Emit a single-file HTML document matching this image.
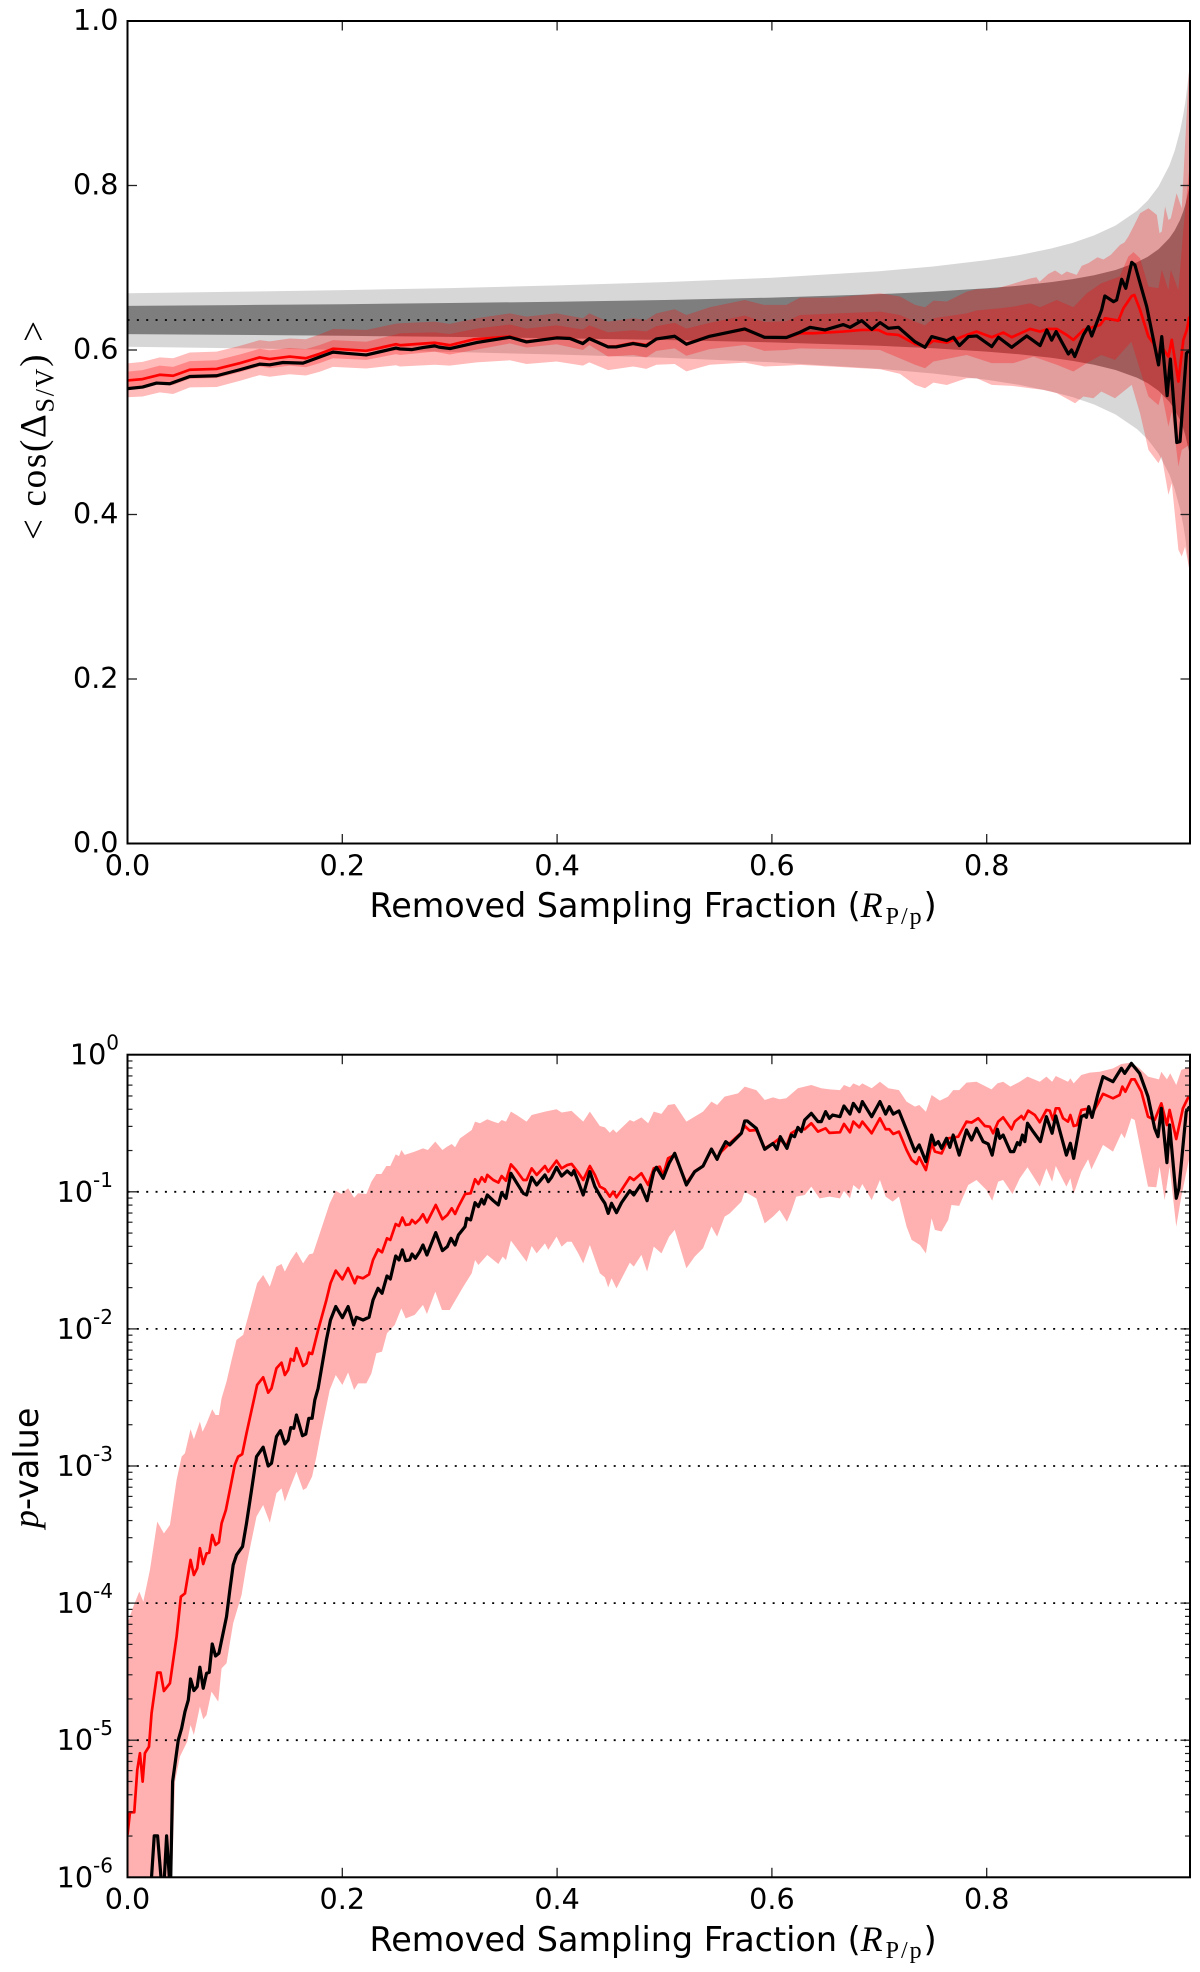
<!DOCTYPE html>
<html>
<head>
<meta charset="utf-8">
<title>Cosine and p-value versus removed sampling fraction</title>
<style>
html,body{margin:0;padding:0;background:#fff;width:1200px;height:1972px;overflow:hidden}
svg{display:block}
text{fill:#000;font-family:"DejaVu Sans","Liberation Sans",sans-serif}
.math{font-family:"Liberation Serif","DejaVu Serif",serif}
</style>
</head>
<body>
<svg id="fig" xmlns="http://www.w3.org/2000/svg" width="1200" height="1972" viewBox="0 0 1200 1972">
  <defs>
    <clipPath id="clipTop"><rect x="127.5" y="21" width="1062.5" height="822.5"/></clipPath>
    <clipPath id="clipBot"><rect x="127.5" y="1054.7" width="1062.5" height="822.6"/></clipPath>
  </defs>
  <g id="topMarks" clip-path="url(#clipTop)"></g>
  <g id="topAxes"></g>
  <g id="botMarks" clip-path="url(#clipBot)"></g>
  <g id="botAxes"></g>

  <text x="369.5" y="917" font-size="33.4">Removed Sampling Fraction (<tspan class="math" font-style="italic" font-size="36" letter-spacing="3">R</tspan><tspan class="math" font-size="24" letter-spacing="2" dy="7">P/p</tspan><tspan dy="-7">)</tspan></text>
  <text x="369.5" y="1951" font-size="33.4">Removed Sampling Fraction (<tspan class="math" font-style="italic" font-size="36" letter-spacing="3">R</tspan><tspan class="math" font-size="24" letter-spacing="2" dy="7">P/p</tspan><tspan dy="-7">)</tspan></text>
  <text class="math" transform="translate(45.5,540) rotate(-90)" font-size="37" textLength="219">&lt; cos(Δ<tspan font-size="26" dy="8">S/V</tspan><tspan dy="-8">) &gt;</tspan></text>
  <text transform="translate(38,1528) rotate(-90)" font-size="33.4"><tspan class="math" font-style="italic" font-size="36">p</tspan>-value</text>
</svg>
<script>
/* ---------- shared axis ticks ---------- */
const xTickValues = [0, 0.2, 0.4, 0.6, 0.8];
const xTickLabels = ["0.0", "0.2", "0.4", "0.6", "0.8"];
const topYTickValues = [0, 0.2, 0.4, 0.6, 0.8, 1.0];
const topYTickLabels = ["0.0", "0.2", "0.4", "0.6", "0.8", "1.0"];
const botDecades = [0, -1, -2, -3, -4, -5, -6];
const botExponentLabels = ["0", "-1", "-2", "-3", "-4", "-5", "-6"];
const botDottedDecades = [-1, -2, -3, -4, -5];
const topReferenceLevel = [0.6365];

/* ---------- top panel: random-expectation gray bands ---------- */
const grayX = [0,.1,.2,.3,.4,.5,.6,.7,.75,.8,
               .83,.86,.88,.9,.92,.94,.95,.96,.97,.975,
               .98,.983,.985,.9885];
const grayOuterHi = [.669,.6708,.6728,.6753,.6785,.6825,.6879,.6958,.7015,.7092,
               .7153,.7234,.7303,.7393,.7514,.7692,.7818,.799,.8241,.8421,
               .8663,.8858,.9019,.9396];
const grayOuterLo = [.604,.6022,.6002,.5977,.5945,.5905,.5851,.5772,.5715,.5638,
               .5577,.5496,.5427,.5337,.5216,.5038,.4912,.474,.4489,.4309,
               .4067,.3872,.3711,.3334];
const grayInnerHi = [.6537,.6546,.6557,.6571,.6587,.6608,.6637,.6679,.6709,.675,
               .6782,.6825,.6862,.6909,.6973,.7067,.7134,.7225,.7358,.7453,
               .7581,.7684,.7769,.7969];
const grayInnerLo = [.6193,.6184,.6173,.6159,.6143,.6122,.6093,.6051,.6021,.598,
               .5948,.5905,.5868,.5821,.5757,.5663,.5596,.5505,.5372,.5277,
               .5149,.5046,.4961,.4761];

/* ---------- top panel: red bands ---------- */
const leftBandX = [0,.014,.03,.0425,.058,.083,.1045,.123,.1324,.151,
               .166,.179,.1913,.2223,.25,.2537,.286,.3,.325,.356,
               .3715,.3995,.424,.43,.4475,.4708,.483,.4925,.5095,.5204,
               .542,.5747,.593,.6135];
const outerHiLeft = [.5838,.5855,.591,.59,.597,.598,.605,.612,.6105,.614,
               .613,.619,.6255,.6245,.632,.6325,.6345,.6317,.6386,.6446,
               .6406,.6446,.6386,.6446,.6345,.6386,.6366,.6446,.6495,.6426,
               .652,.6608,.6548,.6548];
const innerHiLeft = [.5737,.5755,.581,.5795,.5865,.5875,.5945,.6015,.5995,.6025,
               .601,.606,.612,.61,.619,.6203,.6215,.6195,.626,.631,
               .626,.63,.625,.63,.6215,.624,.6225,.629,.633,.626,
               .633,.6418,.634,.635];
const innerLoLeft = [.5525,.5535,.559,.5575,.565,.566,.573,.58,.578,.581,
               .579,.584,.59,.588,.595,.594,.598,.5945,.6005,.608,
               .603,.607,.6,.606,.592,.594,.591,.599,.602,.593,
               .601,.606,.599,.6];
const outerLoLeft = [.5425,.5435,.5485,.5465,.5545,.555,.5625,.5695,.5675,.5705,
               .569,.5735,.5795,.5775,.5815,.58,.582,.581,.585,.5875,
               .583,.586,.581,.585,.5755,.58,.577,.582,.583,.574,
               .582,.5847,.58,.581];

const outerHiRightX = [.6262,.6572,.7007,.7193,.7333,.7426,.7504,.7628,.7814,.7907,
               .8093,.8233,.8404,.8462,.8493,.8575,.8637,.8699,.8745,.8838,
               .8885,.8947,.9032,.9087,.9155,.9242,.9282,.9319,.9367,.9428,
               .9506,.9584,.9609,.9630,.9661,.9692,.9714,.9768,.9816,.9887];
const outerHiRight = [.6637,.6637,.669,.6650,.6548,.652,.66,.659,.671,.6738,
               .675,.68,.687,.6885,.683,.6926,.6966,.6914,.6954,.6914,
               .7023,.7056,.7128,.71,.7157,.7278,.7307,.738,.7501,.7663,
               .7724,.7643,.742,.744,.7744,.758,.76,.7906,.7724,.9485];
const innerHiRightX = [.6262,.7007,.7193,.7333,.7426,.7504,.7814,.7907,.8124,.8249,
               .8404,.8497,.8652,.8807,.8932,.9067,.9238,.9319,.9367,.9428,
               .9506,.9599,.9630,.9692,.9714,.9785,.9831,.9887];
const innerHiRight = [.6426,.6467,.6426,.6345,.63,.6386,.6446,.648,.6507,.6528,
               .6568,.652,.6608,.652,.669,.681,.6893,.7136,.719,.7116,
               .677,.675,.6975,.673,.6975,.673,.746,.823];
const innerLoRightX = [.6262,.7007,.7333,.7426,.7504,.7814,.8047,.8249,.8435,.8652,
               .8807,.8932,.9067,.9195,.9347,.9428,.9506,.9599,.963,.9692,
               .9723,.9785,.9816,.9887];
const innerLoRight = [.602,.6,.582,.5778,.586,.594,.584,.584,.592,.582,
               .5738,.584,.594,.588,.6102,.5758,.5434,.533,.5475,.507,
               .525,.4583,.4786,.4847];
const outerLoRightX = [.6262,.6572,.7007,.7193,.7333,.7426,.7504,.7628,.7814,.7907,
               .8047,.8233,.8404,.8528,.8652,.8823,.89,.8994,.9067,.9195,
               .9350,.9428,.9506,.9599,.963,.9692,.9723,.9785,.9816,.9847,.9887];
const outerLoRight = [.5819,.5798,.5766,.571,.5576,.5535,.5604,.5575,.5657,.5657,
               .5576,.5564,.5535,.5515,.5475,.5353,.5434,.5414,.5495,.5414,
               .5576,.523,.4786,.4624,.4705,.4239,.4381,.357,.349,.361,.3328];

/* ---------- top panel: mean lines ---------- */
const topBlackX = [0,.014,.027,.0394,.058,.083,.1045,.123,.1324,.1448,
               .1634,.1758,.1913,.2037,.2223,.25,.2537,.265,.275,.286,
               .29,.3003,.325,.356,.3715,.3995,.412,.424,.43,.4475,
               .455,.4708,.483,.4925,.5095,.5204,.542,.5747,.593,.6135,
               .6262,.6355,.6495,.6665,.6728,.6836,.693,.7007,.7085,.7178,
               .7333,.7426,.7488,.7628,.769,.7746,.783,.7907,.8047,.8109,
               .8233,.8373,.8497,.856,.8605,.8646,.876,.879,.882,.89,
               .8947,.8978,.907,.91,.918,.921,.9257,.9295,.935,.938,
               .949,.96,.963,.968,.971,.977,.98,.986,.9887];
const topBlackY = [.553,.5549,.5598,.559,.5678,.5687,.576,.5828,.582,.5848,
               .584,.59,.5974,.596,.594,.6023,.6013,.6005,.603,.605,
               .6035,.6017,.609,.6155,.6098,.6147,.614,.6078,.6138,.6037,
               .6037,.6078,.605,.6135,.6167,.607,.6167,.6256,.6155,.6152,
               .6216,.6276,.6244,.6309,.6276,.6357,.625,.6333,.6264,.6276,
               .61,.6033,.6163,.6114,.6155,.6054,.6163,.6171,.6041,.6155,
               .6033,.6171,.6054,.6244,.612,.6224,.5952,.6,.592,.6183,
               .6284,.6171,.6487,.6657,.6588,.6608,.686,.675,.7066,.7034,
               .6527,.5819,.6163,.5446,.589,.4875,.4887,.596,.60];
const topRedX = [0,.014,.03,.0425,.058,.083,.1045,.123,.1324,.151,
               .166,.179,.1913,.2223,.25,.2537,.286,.3003,.3225,.356,
               .3715,.3995,.412,.424,.43,.4475,.455,.4708,.483,.4925,
               .5095,.5204,.542,.5747,.593,.6135,.6262,.6386,.6665,.6836,
               .6991,.7069,.7178,.7333,.7426,.7504,.7628,.7814,.7907,.8047,
               .8155,.8233,.8404,.8497,.8575,.8652,.8745,.8807,.89,.9056,
               .9102,.9226,.9273,.935,.9375,.9428,.9506,.9552,.9599,.963,
               .9692,.9723,.9785,.9831,.9863,.9887];
const topRedY = [.563,.5646,.5699,.5687,.576,.577,.584,.591,.589,.592,
               .59,.5954,.6015,.599,.607,.6058,.6088,.6058,.613,.6163,
               .6103,.6152,.6145,.6083,.6143,.6042,.6045,.6085,.606,.6135,
               .6167,.6075,.617,.625,.6155,.6148,.6204,.6204,.6224,.6244,
               .6244,.6195,.6183,.6074,.6041,.6114,.609,.6183,.6224,.6155,
               .6212,.6155,.6256,.6224,.6256,.6256,.6183,.6123,.6244,.6305,
               .6386,.6357,.6507,.6657,.6669,.6487,.6163,.6082,.59,.6041,
               .592,.6123,.5616,.6123,.6244,.6406];

/* ---------- bottom panel: log10(p-value) band ---------- */
const bandHiX = [0,.0054,.011,.0147,.0209,.0277,.0339,.0395,.0457,.0504,
               .0535,.0587,.0618,.0674,.0699,.0736,.0789,.082,.0851,.0876,
               .0922,.0969,.1015,.1077,.1207,.1263,.1325,.1387,.1434,.1465,
               .152,.1573,.1635,.1691,.1728,.1806,.1883,.1939,.1992,.2054,
               .211,.2147,.2224,.2271,.2317,.2364,.241,.2447,.2497,.2528,
               .255,.2581,.2674,.2751,.2797,.2866,.2932,.2978,.3019,.305,
               .3096,.3205,.3236,.3282,.335,.3406,.3453,.3484,.3524,.357,
               .3623,.3716,.3763,.3887,.3995,.4042,.4135,.4243,.4305,.4398,
               .4445,.4491,.4522,.4553,.4677,.4714,.4785,.4848,.49,.4972,
               .5033,.5095,.5204,.5281,.5359,.5437,.549,.556,.5685,.5747,
               .5855,.5933,.601,.6072,.6134,.6242,.6367,.646,.6537,.6634,
               .6671,.6727,.6758,.6814,.6842,.6929,.7006,.7084,.7183,.7254,
               .7332,.7372,.7434,.7487,.7564,.764,.7688,.7744,.7812,.7905,
               .8045,.81,.8153,.8221,.8308,.838,.8494,.8556,.8609,.8643,
               .8757,.8779,.881,.8881,.8959,.9052,.9176,.9254,.9347,.9424,
               .9502,.9604,.9626,.9678,.9709,.9765,.9812,.9889];
const bandHiY = [-4.147,-4.026,-3.916,-3.989,-3.758,-3.406,-3.491,-3.43,-3.102,-2.932,
               -2.907,-2.732,-2.805,-2.676,-2.75,-2.689,-2.586,-2.628,-2.628,-2.506,
               -2.385,-2.227,-2.08,-2.044,-1.667,-1.607,-1.692,-1.546,-1.527,-1.582,
               -1.497,-1.436,-1.522,-1.456,-1.449,-1.266,-1.084,-.992,-1.016,-.974,
               -1.043,-1.011,-1.016,-.926,-.87,-.87,-.812,-.812,-.727,-.74,
               -.695,-.731,-.707,-.683,-.695,-.634,-.695,-.67,-.651,-.675,
               -.61,-.549,-.488,-.5,-.471,-.488,-.5,-.476,-.488,-.415,
               -.44,-.488,-.44,-.415,-.398,-.422,-.41,-.488,-.415,-.52,
               -.53,-.569,-.545,-.569,-.476,-.488,-.457,-.5,-.415,-.432,
               -.367,-.36,-.488,-.452,-.415,-.342,-.367,-.306,-.282,-.233,
               -.258,-.33,-.311,-.325,-.318,-.245,-.221,-.245,-.253,-.258,
               -.221,-.238,-.209,-.228,-.209,-.245,-.197,-.245,-.258,-.342,
               -.379,-.367,-.416,-.294,-.335,-.306,-.258,-.258,-.204,-.197,
               -.253,-.209,-.197,-.233,-.197,-.16,-.197,-.16,-.197,-.155,
               -.197,-.172,-.209,-.148,-.131,-.124,-.1,-.068,-.058,-.1,
               -.16,-.18,-.124,-.18,-.136,-.221,-.112,-.087];
const bandLoX = [0,.039,.0415,.0442,.0488,.0556,.0587,.0618,.0674,.0705,
               .0736,.0782,.0845,.0876,.0922,.0984,.1062,.1108,.1201,.1263,
               .1325,.1387,.1434,.1465,.1511,.1573,.1635,.1666,.1719,.1759,
               .1806,.1883,.1939,.2001,.2054,.211,.2147,.2224,.2271,.2317,
               .237,.2416,.2488,.255,.259,.2674,.2751,.2788,.2866,.2928,
               .3,.3127,.3205,.3236,.3267,.335,.3453,.3493,.3524,.357,
               .3623,.3716,.3763,.381,.3887,.3918,.3995,.4042,.4094,.4135,
               .4197,.4243,.4305,.4398,.4445,.4476,.4507,.4553,.4677,.4714,
               .4785,.4838,.49,.4972,.5043,.5095,.5204,.5281,.5359,.5437,
               .549,.556,.5608,.5716,.5747,.5855,.5933,.601,.6072,.614,
               .618,.6227,.6305,.6367,.6444,.6537,.6634,.6671,.6727,.6758,
               .6814,.6842,.6929,.7006,.7059,.7124,.7183,.7254,.7301,.7378,
               .7434,.7487,.7518,.758,.7642,.7672,.7744,.7828,.7905,.7998,
               .8051,.8107,.8153,.824,.8308,.838,.8494,.8556,.8609,.8643,
               .8742,.8779,.881,.8881,.8944,.8975,.9083,.9176,.9254,.9285,
               .9347,.9378,.944,.9502,.9579,.961,.9657,.9703,.9765,.9812,.9889];
const bandLoY = [-7,-7,-6,-5.302,-5.12,-5.01,-4.889,-4.962,-4.755,-4.847,
               -4.816,-4.646,-4.719,-4.476,-4.439,-4.147,-3.941,-3.722,-3.369,-3.284,
               -3.413,-3.199,-3.163,-3.26,-3.163,-3.041,-3.175,-3.16,-3.077,-2.932,
               -2.737,-2.445,-2.336,-2.409,-2.317,-2.445,-2.397,-2.397,-2.324,-2.178,
               -2.166,-2.032,-1.971,-1.85,-1.923,-1.898,-1.825,-1.891,-1.728,-1.862,
               -1.862,-1.692,-1.594,-1.497,-1.534,-1.461,-1.527,-1.473,-1.497,-1.356,
               -1.412,-1.51,-1.395,-1.449,-1.376,-1.424,-1.327,-1.4,-1.364,-1.364,
               -1.449,-1.522,-1.388,-1.594,-1.624,-1.697,-1.631,-1.704,-1.517,-1.546,
               -1.46,-1.582,-1.4,-1.449,-1.327,-1.278,-1.558,-1.473,-1.412,-1.254,
               -1.327,-1.181,-1.157,-1.072,-.999,-1.048,-1.23,-1.181,-1.133,-1.218,
               -1.145,-1.035,-1.023,-.962,-1.048,-1.035,-1.048,-.992,-1.048,-.95,
               -.987,-.943,-1.06,-.914,-1.035,-1.072,-1.035,-1.254,-1.351,-1.388,
               -1.449,-1.193,-1.278,-1.29,-1.205,-1.096,-1.103,-.95,-.914,-.987,
               -1.065,-.926,-.914,-1.016,-.902,-.821,-.962,-.829,-.926,-.812,
               -.962,-.901,-1.016,-.853,-.763,-.836,-.658,-.707,-.573,-.61,
               -.464,-.476,-.719,-.962,-.967,-.817,-1.06,-.817,-1.254,-1.035,-.743];

/* ---------- bottom panel: log10(p-value) lines ---------- */
const botRedX = [0,.0023,.0063,.0091,.0116,.0141,.0162,.02,.0224,.0277,
               .0308,.0339,.0395,.0457,.0497,.0535,.0587,.0618,.0649,.0674,
               .0705,.0736,.0761,.0789,.082,.0851,.0876,.0916,.0959,.0999,
               .103,.1068,.1108,.1207,.1263,.131,.1341,.1387,.1434,.1465,
               .1496,.152,.1548,.1573,.1635,.1666,.1691,.1719,.1775,.1852,
               .189,.1939,.2001,.2054,.2116,.214,.2193,.2249,.2286,.2333,
               .237,.2416,.2447,.2497,.2528,.2559,.259,.2627,.2649,.268,
               .272,.2751,.2788,.287,.2932,.2978,.3019,.305,.3081,.3143,
               .3195,.3236,.3267,.3298,.3329,.335,.3406,.3453,.3484,.3524,
               .357,.3617,.3685,.3716,.3763,.381,.3887,.3918,.3995,.4042,
               .4094,.4135,.4197,.4243,.4305,.4352,.4398,.4445,.4491,.4522,
               .4553,.46,.4677,.4714,.4785,.4848,.49,.4956,.4987,.5033,
               .5095,.5204,.5281,.5359,.5437,.549,.5529,.5608,.5716,.5747,
               .5793,.5855,.5933,.601,.6072,.6134,.618,.6242,.6305,.6367,
               .6429,.65,.6535,.6634,.6671,.6727,.6758,.6814,.6842,.6929,
               .7006,.7059,.7093,.713,.7183,.7254,.7301,.7347,.7372,.7434,
               .7487,.7518,.758,.7642,.7735,.7812,.7859,.7921,.7983,.8029,
               .806,.8107,.8153,.8231,.8261,.8323,.8345,.8386,.8448,.8494,
               .8556,.8587,.8618,.8643,.8674,.8711,.8757,.8779,.881,.8841,
               .8881,.8928,.8975,.9037,.9083,.9176,.9238,.9263,.9291,.9347,
               .9378,.944,.9502,.9564,.9626,.9678,.9703,.9765,.9827,.988];
const botRedY = [-5.69,-5.526,-5.526,-5.217,-5.095,-5.302,-5.095,-5.047,-4.804,-4.507,
               -4.507,-4.641,-4.585,-4.245,-3.953,-3.929,-3.685,-3.795,-3.746,-3.6,
               -3.715,-3.637,-3.632,-3.503,-3.576,-3.557,-3.418,-3.321,-3.151,-2.992,
               -2.932,-2.914,-2.761,-2.409,-2.353,-2.465,-2.433,-2.287,-2.246,-2.336,
               -2.299,-2.219,-2.232,-2.141,-2.27,-2.251,-2.173,-2.183,-2.008,-1.789,
               -1.667,-1.575,-1.638,-1.556,-1.667,-1.619,-1.631,-1.602,-1.497,-1.42,
               -1.441,-1.339,-1.351,-1.235,-1.249,-1.188,-1.242,-1.237,-1.205,-1.23,
               -1.2,-1.164,-1.223,-1.096,-1.2,-1.169,-1.12,-1.162,-1.108,-1.016,
               -1.011,-.909,-.943,-.894,-.926,-.877,-.914,-.933,-.885,-.919,
               -.8,-.841,-.914,-.914,-.829,-.877,-.812,-.853,-.773,-.829,
               -.805,-.797,-.86,-.914,-.812,-.877,-.962,-.982,-1.035,-.999,
               -1.04,-.987,-.894,-.914,-.865,-.95,-.829,-.817,-.88,-.756,
               -.731,-.938,-.85,-.812,-.695,-.756,-.707,-.646,-.568,-.52,
               -.554,-.549,-.683,-.647,-.61,-.67,-.573,-.544,-.544,-.5,
               -.561,-.537,-.57,-.566,-.505,-.566,-.488,-.53,-.488,-.573,
               -.464,-.544,-.544,-.578,-.561,-.695,-.768,-.797,-.748,-.841,
               -.646,-.707,-.72,-.61,-.598,-.488,-.495,-.464,-.52,-.525,
               -.573,-.488,-.457,-.544,-.488,-.447,-.471,-.408,-.44,-.493,
               -.403,-.408,-.476,-.391,-.391,-.464,-.488,-.44,-.52,-.513,
               -.403,-.396,-.44,-.355,-.286,-.318,-.294,-.233,-.27,-.18,
               -.18,-.27,-.452,-.476,-.355,-.513,-.403,-.615,-.391,-.306];
const botBlackX = [.018,.0224,.0249,.028,.0317,.034,.0364,.0389,.04,.042,
               .0473,.0504,.0535,.0566,.0587,.0618,.0649,.0674,.0705,.0736,
               .0761,.0789,.082,.0851,.0922,.0953,.0984,.1015,.1071,.1108,
               .1155,.1201,.1263,.131,.1341,.1387,.1424,.1465,.1496,.152,
               .1548,.1573,.1629,.166,.1688,.1719,.1744,.1775,.1852,.189,
               .1939,.2001,.2054,.2106,.2131,.2193,.2249,.2286,.2333,.237,
               .2416,.2447,.2497,.2528,.2559,.259,.2627,.2649,.268,.272,
               .2751,.2788,.287,.2932,.2978,.3012,.305,.3081,.3143,.3158,
               .3195,.3236,.3267,.3298,.332,.335,.3406,.3453,.3484,.3524,
               .357,.3617,.3685,.3716,.3763,.381,.3887,.3918,.3949,.3995,
               .4042,.4094,.4135,.4156,.4197,.4243,.4305,.4352,.4414,.4445,
               .4476,.4507,.4553,.46,.4677,.4714,.4776,.4838,.49,.4925,
               .4987,.5043,.5095,.5204,.5281,.5359,.5437,.549,.552,.557,
               .5608,.5716,.5747,.577,.5855,.5933,.601,.6047,.6078,.614,
               .618,.6211,.6242,.6274,.6305,.6367,.6429,.646,.65,.6535,
               .6566,.6634,.6671,.6727,.6758,.6814,.6842,.6929,.7006,.7059,
               .7093,.713,.7183,.7254,.7332,.7372,.7434,.7487,.7518,.7549,
               .758,.7626,.7657,.7688,.7744,.7812,.7859,.7905,.7967,.8014,
               .8051,.81,.8122,.8153,.8221,.8252,.8286,.8308,.8333,.8355,
               .838,.8432,.85,.8556,.8609,.8643,.8742,.8779,.881,.8881,
               .8912,.8928,.895,.8981,.9037,.9083,.9176,.9254,.9285,.9347,
               .9424,.9502,.9564,.9595,.9626,.9678,.9703,.9765,.979,.9858,.9889];
const botBlackY = [-6.5,-5.995,-5.698,-5.698,-6.05,-6.05,-5.698,-5.995,-6.1,-5.302,
               -4.998,-4.913,-4.792,-4.707,-4.553,-4.638,-4.609,-4.468,-4.621,-4.512,
               -4.505,-4.298,-4.386,-4.366,-4.099,-3.904,-3.722,-3.649,-3.588,-3.418,
               -3.175,-2.932,-2.863,-3,-2.98,-2.786,-2.742,-2.839,-2.81,-2.72,
               -2.725,-2.628,-2.779,-2.767,-2.652,-2.652,-2.518,-2.433,-2.08,-1.935,
               -1.837,-1.918,-1.837,-1.971,-1.915,-1.935,-1.915,-1.789,-1.704,-1.74,
               -1.614,-1.636,-1.468,-1.497,-1.424,-1.502,-1.497,-1.454,-1.485,-1.437,
               -1.388,-1.461,-1.298,-1.429,-1.4,-1.339,-1.388,-1.315,-1.254,-1.193,
               -1.205,-1.079,-1.108,-1.055,-1.089,-1.023,-1.065,-1.096,-1.006,-1.048,
               -.865,-.926,-1.011,-1.023,-.894,-.95,-.877,-.926,-.894,-.821,
               -.885,-.848,-.877,-.846,-.926,-1.023,-.853,-.962,-1.048,-1.084,
               -1.157,-1.084,-1.152,-1.079,-.992,-1.023,-.95,-1.065,-.853,-.821,
               -.902,-.792,-.719,-.95,-.853,-.812,-.688,-.763,-.707,-.634,
               -.658,-.573,-.483,-.483,-.537,-.69,-.647,-.69,-.598,-.683,
               -.586,-.598,-.53,-.561,-.476,-.428,-.488,-.488,-.415,-.464,
               -.44,-.452,-.374,-.433,-.355,-.416,-.342,-.452,-.342,-.433,
               -.379,-.433,-.41,-.549,-.707,-.658,-.78,-.586,-.658,-.634,
               -.683,-.61,-.676,-.586,-.732,-.549,-.622,-.537,-.634,-.651,
               -.732,-.544,-.61,-.586,-.707,-.707,-.641,-.658,-.586,-.634,
               -.5,-.561,-.634,-.452,-.573,-.447,-.732,-.646,-.756,-.452,
               -.44,-.457,-.379,-.457,-.282,-.16,-.197,-.099,-.136,-.063,
               -.136,-.306,-.537,-.598,-.391,-.787,-.513,-1.047,-.974,-.415,-.379];

/* ---------- axis functions ---------- */
const svgNS = "http://www.w3.org/2000/svg";
function xAxis(v){ return 127.5 + v * 1074; }
function yTop(v){ return 843.5 - v * 822.5; }
function yBot(logP){ return 1877.3 - (logP + 6) * 137.1; }

function make(tag, attrs, parent){
  const e = document.createElementNS(svgNS, tag);
  for (const k in attrs) e.setAttribute(k, attrs[k]);
  parent.appendChild(e);
  return e;
}
function lineD(xs, ys, yf){
  const n = Math.min(xs.length, ys.length);
  let d = "";
  for (let i = 0; i < n; i++) d += (i ? "L" : "M") + xAxis(xs[i]).toFixed(2) + " " + yf(ys[i]).toFixed(2);
  return d;
}
function bandD(xHi, hi, xLo, lo, yf){
  const n = Math.min(xLo.length, lo.length);
  let d = lineD(xHi, hi, yf);
  for (let i = n - 1; i >= 0; i--) d += "L" + xAxis(xLo[i]).toFixed(2) + " " + yf(lo[i]).toFixed(2);
  return d + "Z";
}
function tick(parent, x1, y1, x2, y2, w){
  return make("line", {x1:x1, y1:y1, x2:x2, y2:y2, stroke:"#222", "stroke-width":w}, parent);
}
function label(parent, x, y, anchor, size, str){
  const t = make("text", {x:x, y:y, "text-anchor":anchor, "font-size":size}, parent);
  t.textContent = str;
  return t;
}

/* ---------- top panel marks ---------- */
const topMarks = document.getElementById("topMarks");
const topAxes = document.getElementById("topAxes");
const botMarks = document.getElementById("botMarks");
const botAxes = document.getElementById("botAxes");

const gOuter = make("path", {d: bandD(grayX, grayOuterHi, grayX, grayOuterLo, yTop), fill:"#000", "fill-opacity":0.157}, topMarks);



const gInner = make("path", {d: bandD(grayX, grayInnerHi, grayX, grayInnerLo, yTop), fill:"#000", "fill-opacity":0.41}, topMarks);



const rOuter = make("path", {d: bandD(leftBandX.concat(outerHiRightX), outerHiLeft.concat(outerHiRight), leftBandX.concat(outerLoRightX), outerLoLeft.concat(outerLoRight), yTop), fill:"#f00", "fill-opacity":0.27}, topMarks);



const rInner = make("path", {d: bandD(leftBandX.concat(innerHiRightX), innerHiLeft.concat(innerHiRight), leftBandX.concat(innerLoRightX), innerLoLeft.concat(innerLoRight), yTop), fill:"#f00", "fill-opacity":0.27}, topMarks);



const refLine = make("line", {x1:xAxis(0), x2:1190, y1:yTop(topReferenceLevel[0]), y2:yTop(topReferenceLevel[0]), stroke:"#000", "stroke-width":1.8, "stroke-dasharray":"2 7.35"}, topMarks);



const tRed = make("path", {d: lineD(topRedX, topRedY, yTop), fill:"none", stroke:"#f00", "stroke-width":2.7, "stroke-linejoin":"round"}, topMarks);



const tBlack = make("path", {d: lineD(topBlackX, topBlackY, yTop), fill:"none", stroke:"#000", "stroke-width":3.2, "stroke-linejoin":"round"}, topMarks);



/* ---------- bottom panel marks ---------- */
const pBand = make("path", {d: bandD(bandHiX, bandHiY, bandLoX, bandLoY, yBot), fill:"#f00", "fill-opacity":0.31}, botMarks);



botDottedDecades.forEach(function(dec){
  const dl = make("line", {x1:xAxis(0), x2:1190, y1:yBot(dec), y2:yBot(dec), stroke:"#000", "stroke-width":1.8, "stroke-dasharray":"2 7.35"}, botMarks);
  
  
});

const bRed = make("path", {d: lineD(botRedX, botRedY, yBot), fill:"none", stroke:"#f00", "stroke-width":2.7, "stroke-linejoin":"round"}, botMarks);



const bBlack = make("path", {d: lineD(botBlackX, botBlackY, yBot), fill:"none", stroke:"#000", "stroke-width":3.2, "stroke-linejoin":"round"}, botMarks);



/* ---------- top panel axes ---------- */
xTickValues.forEach(function(v, i){
  const x = xAxis(v);
  if (i > 0) {
    const a = tick(topAxes, x, 843.5, x, 834, 1.3);
    
    
    const b = tick(topAxes, x, 21, x, 30.5, 1.3);
    
    
  }
  const l = label(topAxes, x, 875.5, "middle", 28.6, xTickLabels[i]);
  
  
});
topYTickValues.forEach(function(v, i){
  const y = yTop(v);
  if (v > 0 && v < 1) {
    const a = tick(topAxes, 127.5, y, 137, y, 1.3);
    
    
    const b = tick(topAxes, 1190, y, 1180.5, y, 1.3);
    
    
  }
  const l = label(topAxes, 118.5, y + 8.8, "end", 28.6, topYTickLabels[i]);
  
  
});
const topFrame = make("rect", {x:127.5, y:21, width:1062.5, height:822.5, fill:"none", stroke:"#000", "stroke-width":2}, topAxes);



/* ---------- bottom panel axes ---------- */
xTickValues.forEach(function(v, i){
  const x = xAxis(v);
  if (i > 0) {
    const a = tick(botAxes, x, 1877.3, x, 1867.8, 1.3);
    
    
    const b = tick(botAxes, x, 1054.7, x, 1064.2, 1.3);
    
    
  }
  const l = label(botAxes, x, 1909, "middle", 28.6, xTickLabels[i]);
  
  
});
botDecades.forEach(function(dec, i){
  const y = yBot(dec);
  if (dec < 0 && dec > -6) {
    const a = tick(botAxes, 127.5, y, 137, y, 1.3);
    
    
    const b = tick(botAxes, 1190, y, 1180.5, y, 1.3);
    
    
  }
  if (dec > -6) {
    for (let m = 2; m <= 9; m++) {
      const my = yBot(dec - 1 + Math.log10(m));
      const c = tick(botAxes, 127.5, my, 132.5, my, 1.2);
      
      
      const e = tick(botAxes, 1190, my, 1185, my, 1.2);
      
      
    }
  }
  const t = make("text", {x: dec === 0 ? 119 : 113, y: y + 10, "text-anchor":"end", "font-size":28.6}, botAxes);
  
  
  t.appendChild(document.createTextNode("10"));
  const s = make("tspan", {"font-size":20, dy:-15}, t);
  s.textContent = botExponentLabels[i];
});
const botFrame = make("rect", {x:127.5, y:1054.7, width:1062.5, height:822.6, fill:"none", stroke:"#000", "stroke-width":2}, botAxes);


</script>
</body>
</html>
